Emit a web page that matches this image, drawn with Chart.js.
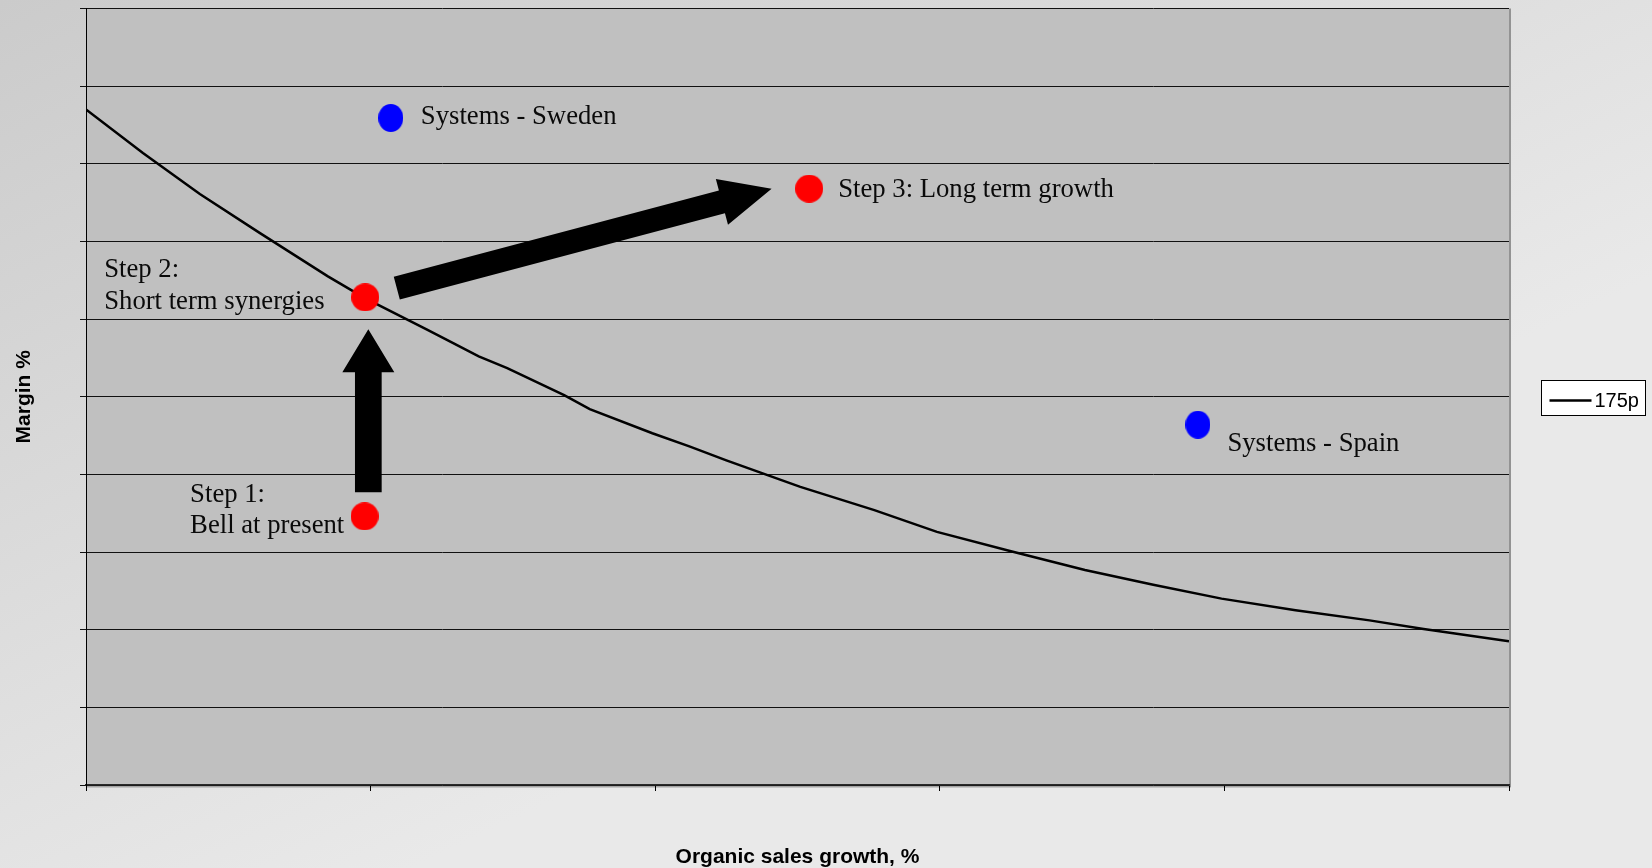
<!DOCTYPE html>
<html>
<head>
<meta charset="utf-8">
<title>Margin vs organic sales growth</title>
<script src="https://cdn.jsdelivr.net/npm/chart.js@4.4.1/dist/chart.umd.min.js"></script>
<style>
  html, body { margin: 0; padding: 0; background: #e0e0e0; }
  #wrap { position: relative; width: 1652px; height: 868px; }
</style>
</head>
<body>
<div id="wrap"><canvas id="chart"></canvas></div>
<script>
// ---------------------------------------------------------------
// Data (axes carry no numbers)
// ---------------------------------------------------------------
const curveLabel = '175p';
const curveX = [0.00, 0.20, 0.40, 0.61, 0.85, 0.98, 1.20, 1.28, 1.38, 1.48, 1.68, 1.77, 1.99,
                2.12, 2.25, 2.51, 2.77, 2.99, 3.25, 3.51, 3.75, 3.99, 4.25, 4.51, 4.70, 5.00];
const curveY = [8.70, 8.14, 7.61, 7.11, 6.55, 6.27, 5.86, 5.71, 5.52, 5.37, 5.02, 4.84, 4.53,
                4.36, 4.18, 3.84, 3.54, 3.26, 3.01, 2.77, 2.58, 2.40, 2.25, 2.12, 2.01, 1.85];

const pointLabels = [
  ['Systems - Sweden'],
  ['Step 3: Long term growth'],
  ['Step 2:', 'Short term synergies'],
  ['Step 1:', 'Bell at present'],
  ['Systems - Spain']
];
const pointX = [1.071, 2.541, 0.981, 0.979, 3.907];
const pointY = [8.59, 7.68, 6.28, 3.46, 4.64];
const pointKind = ['peer', 'step', 'step', 'step', 'peer'];

// arrows between the steps, in axis units
const arrowFrom = [[0.992, 3.77], [1.092, 6.40]];
const arrowTo   = [[0.992, 5.87], [2.409, 7.68]];

const xTickValues = [0, 1, 2, 3, 4, 5];
const yTickValues = [0, 1, 2, 3, 4, 5, 6, 7, 8, 9, 10];

const xTitle = 'Organic sales growth, %';
const yTitle = 'Margin %';

// ---------------------------------------------------------------
// Styling
// ---------------------------------------------------------------
const SERIF = "'Liberation Serif', 'Times New Roman', serif";
const SANS = "'Liberation Sans', Arial, sans-serif";
const PLOT_BG = '#c0c0c0';

// label placement relative to each dot, in pixels
const labelOffset = [
  { dx: 30, dy: 6.3 },
  { dx: 29, dy: 8 },
  { dx: -261, dy: -20.3 },
  { dx: -174.5, dy: -14.6 },
  { dx: 29.5, dy: 26.4 }
];
const arrowShape = [
  { shaft: 26.7, head: 52, headLen: 43 },
  { shaft: 23.6, head: 47.4, headLen: 51.4 }
];

function ellipseImage(w, h, color) {
  const c = document.createElement('canvas');
  c.width = w; c.height = h;
  const g = c.getContext('2d');
  g.fillStyle = color;
  g.beginPath();
  g.ellipse(w / 2, h / 2, w / 2, h / 2, 0, 0, Math.PI * 2);
  g.fill();
  return c;
}
const dotImages = {
  step: ellipseImage(28, 28, '#ff0000'),
  peer: ellipseImage(25, 28, '#0000ff')
};

function drawArrow(ctx, x0, y0, x1, y1, s) {
  const dx = x1 - x0, dy = y1 - y0, len = Math.hypot(dx, dy);
  const ux = dx / len, uy = dy / len, nx = -uy, ny = ux;
  const bx = x1 - ux * s.headLen, by = y1 - uy * s.headLen;
  ctx.beginPath();
  ctx.moveTo(x0 + nx * s.shaft / 2, y0 + ny * s.shaft / 2);
  ctx.lineTo(bx + nx * s.shaft / 2, by + ny * s.shaft / 2);
  ctx.lineTo(bx + nx * s.head / 2, by + ny * s.head / 2);
  ctx.lineTo(x1, y1);
  ctx.lineTo(bx - nx * s.head / 2, by - ny * s.head / 2);
  ctx.lineTo(bx - nx * s.shaft / 2, by - ny * s.shaft / 2);
  ctx.lineTo(x0 - nx * s.shaft / 2, y0 - ny * s.shaft / 2);
  ctx.closePath();
  ctx.fill();
}

// ---------------------------------------------------------------
// Plugins: backgrounds, arrows + labels, legend box
// ---------------------------------------------------------------
const backgroundPlugin = {
  id: 'slideBackground',
  beforeDraw(chart) {
    const { ctx, width, height, chartArea: a } = chart;
    ctx.save();
    const grad = ctx.createLinearGradient(0, 0, width * 0.25, height);
    grad.addColorStop(0, '#cbcbcb');
    grad.addColorStop(1, '#e9e9e9');
    ctx.fillStyle = grad;
    ctx.fillRect(0, 0, width, height);
    ctx.fillStyle = PLOT_BG;
    ctx.fillRect(a.left, a.top, a.right - a.left, a.bottom - a.top);
    // plot area shadow / right frame
    ctx.fillStyle = '#a4a4a4';
    ctx.fillRect(a.left, a.bottom, a.right - a.left + 2, 2.5);
    ctx.fillStyle = '#939393';
    ctx.fillRect(a.right, a.top, 2, a.bottom - a.top + 2);
    ctx.restore();
  }
};

const annotationPlugin = {
  id: 'stepAnnotations',
  afterDatasetsDraw(chart) {
    const { ctx, scales: { x, y } } = chart;
    ctx.save();
    ctx.fillStyle = '#000';
    arrowFrom.forEach((from, i) => {
      drawArrow(ctx,
        x.getPixelForValue(from[0]), y.getPixelForValue(from[1]),
        x.getPixelForValue(arrowTo[i][0]), y.getPixelForValue(arrowTo[i][1]),
        arrowShape[i]);
    });
    ctx.font = '26.7px ' + SERIF;
    ctx.textAlign = 'left';
    ctx.textBaseline = 'alphabetic';
    ctx.fillStyle = '#0a0a0a';
    pointLabels.forEach((lines, i) => {
      const px = x.getPixelForValue(pointX[i]) + labelOffset[i].dx;
      const py = y.getPixelForValue(pointY[i]) + labelOffset[i].dy;
      lines.forEach((t, j) => ctx.fillText(t, px, py + j * 31.5));
    });
    ctx.restore();
  }
};

const legendPlugin = {
  id: 'boxLegend',
  afterDraw(chart) {
    const { ctx, chartArea: a } = chart;
    const ds = chart.data.datasets.find(d => d.label === curveLabel);
    const left = a.right + 32.5;
    const top = Math.round((a.top + a.bottom) / 2) - 16.5;
    ctx.save();
    ctx.fillStyle = '#ffffff';
    ctx.fillRect(left, top, 104, 35);
    ctx.strokeStyle = '#000';
    ctx.lineWidth = 1;
    ctx.strokeRect(left, top, 104, 35);
    ctx.beginPath();
    ctx.moveTo(left + 8, top + 20);
    ctx.lineTo(left + 50, top + 20);
    ctx.lineWidth = 2.5;
    ctx.stroke();
    ctx.fillStyle = '#000';
    ctx.font = '20px ' + SANS;
    ctx.textBaseline = 'alphabetic';
    ctx.fillText(ds.label, left + 53, top + 26);
    ctx.restore();
  }
};

// ---------------------------------------------------------------
// Chart
// ---------------------------------------------------------------
const curveData = curveX.map((v, i) => ({ x: v, y: curveY[i] }));
const pointData = pointX.map((v, i) => ({ x: v, y: pointY[i] }));

new Chart(document.getElementById('chart'), {
  type: 'scatter',
  data: {
    datasets: [
      {
        label: 'points',
        data: pointData,
        pointStyle: pointKind.map(k => dotImages[k]),
        order: 0
      },
      {
        label: curveLabel,
        data: curveData,
        showLine: true,
        borderColor: '#000',
        borderWidth: 2.5,
        pointRadius: 0,
        tension: 0,
        order: 1
      }
    ]
  },
  options: {
    responsive: true,
    maintainAspectRatio: false,
    animation: false,
    layout: { padding: { left: 0, right: 143, top: 8.5, bottom: 0 } },
    plugins: {
      legend: { display: false },
      tooltip: { enabled: false }
    },
    scales: {
      x: {
        type: 'linear',
        min: 0, max: 5,
        afterBuildTicks: s => { s.ticks = xTickValues.map(v => ({ value: v })); },
        ticks: { display: false },
        grid: { drawOnChartArea: false, drawTicks: true, tickLength: 6, color: '#000' },
        border: { display: true, color: '#2a2a2a', width: 1.5 },
        title: {
          display: true, text: xTitle, color: '#000',
          font: { family: SANS, size: 21, weight: 'bold', lineHeight: 1.05 },
          padding: { top: 54.95, bottom: 0 }
        }
      },
      y: {
        type: 'linear',
        min: 0, max: 10,
        afterBuildTicks: s => { s.ticks = yTickValues.map(v => ({ value: v })); },
        ticks: { display: false },
        grid: { drawOnChartArea: true, drawTicks: true, tickLength: 6, color: '#111' },
        border: { display: true, color: '#000', width: 1 },
        title: {
          display: true, text: yTitle, color: '#000',
          font: { family: SANS, size: 21, weight: 'bold', lineHeight: 1.05 },
          padding: { top: 13, bottom: 44.95 }
        }
      }
    }
  },
  plugins: [backgroundPlugin, annotationPlugin, legendPlugin]
});
</script>
</body>
</html>
